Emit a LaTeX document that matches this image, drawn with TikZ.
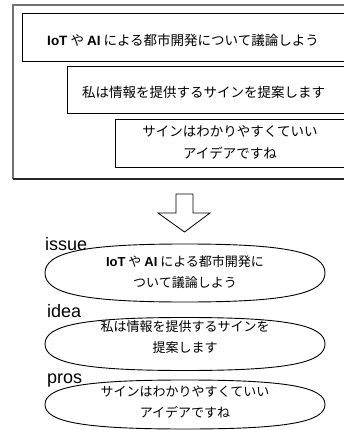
\documentclass[tikz,border=0pt]{standalone}
\usepackage{fontspec}
\setmainfont{Noto Sans CJK JP}
\newfontfamily\lat{Liberation Sans}
\newcommand\bubpath[3]{% cx, cy, b
  ({#1-140},#2) .. controls ({#1-140},{#2-0.72*#3}) and ({#1-100.8},{#2-#3}) .. ({#1},{#2-#3})
  .. controls ({#1+100.8},{#2-#3}) and ({#1+140},{#2-0.72*#3}) .. ({#1+140},#2)
  .. controls ({#1+140},{#2+0.72*#3}) and ({#1+100.8},{#2+#3}) .. ({#1},{#2+#3})
  .. controls ({#1-100.8},{#2+#3}) and ({#1-140},{#2+0.72*#3}) .. ({#1-140},#2) -- cycle}
\begin{document}
\begin{tikzpicture}[x=1pt,y=-1pt,
  txt/.style={font=\fontsize{13.5}{22}\selectfont, align=center, text=black, inner sep=0pt},
  etxt/.style={font=\fontsize{13}{21}\selectfont, align=center, text=black, inner sep=0pt},
  boxline/.style={draw=black, line width=0.9pt},
  lbl/.style={font=\lat\fontsize{18}{18}\selectfont, anchor=base west, inner sep=0pt},
  outerline/.style={draw=black!55, line width=1.4pt},
  bub/.style={draw=black, line width=0.9pt},
  bigarrow/.style={draw=black, line width=0.8pt, fill=white, line join=miter},
]
\useasboundingbox (0,0) rectangle (344,430);
\fill[white] (0,0) rectangle (344,430);

% upper panel (boxes run past the right edge of the picture)
\draw[outerline] (344,5) -- (13,5) -- (13,179);
\draw[draw=black!85, line width=1.4pt] (13,179) -- (344,179);
\draw[boxline] (344,13) -- (22,13) -- (22,61) -- (344,61);
\draw[boxline] (344,66) -- (67,66) -- (67,113) -- (344,113);
\draw[boxline] (344,119) -- (115,119) -- (115,167) -- (344,167);
\node[txt] (t1) at (183,40) {{\lat\bfseries IoT} や {\lat\bfseries AI} による都市開発について議論しよう};
\node[txt] (t2) at (203.5,92) {私は情報を提供するサインを提案します};
\node[txt] (t3) at (230,142) {サインはわかりやすくていい\\アイデアですね};

% arrow
\draw[bigarrow] (176,194) -- (193,194) -- (193,213) -- (210,213) -- (184.5,232)
  -- (158,213) -- (176,213) -- cycle;

% lower panel
\begin{scope}
\clip (0,0) rectangle (344,429.3);
\draw[bub] \bubpath{185}{273}{29};
\draw[bub] \bubpath{185}{344}{26.5};
\draw[bub] \bubpath{185}{404.5}{24.5};
\end{scope}
\node[etxt] (e1) at (185,272.5) {{\lat\bfseries IoT} や {\lat\bfseries AI} による都市開発に\\ついて議論しよう};
\node[etxt] (e2) at (185,337) {私は情報を提供するサインを\\提案します};
\node[etxt] (e3) at (185,402) {サインはわかりやすくていい\\アイデアですね};
\node[lbl] (l1) at (45,250.5) {issue};
\node[lbl] (l2) at (47,317) {idea};
\node[lbl] (l3) at (47,383) {pros};
\end{tikzpicture}
\end{document}
